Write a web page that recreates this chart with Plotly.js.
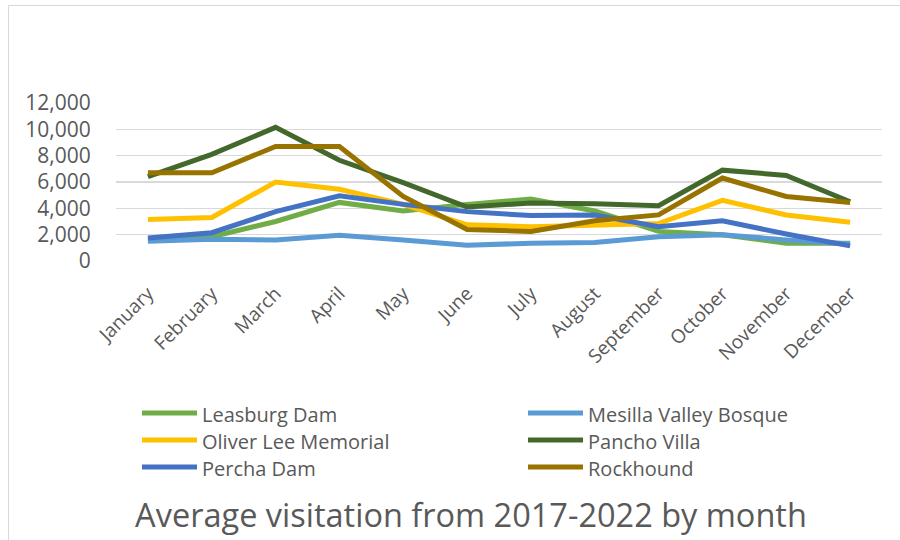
<!DOCTYPE html>
<html>
<head>
<meta charset="utf-8">
<script src="https://cdn.plot.ly/plotly-3.0.1.min.js"></script>
<style>
  html, body { margin: 0; padding: 0; background: #ffffff; }
  #frame { position: absolute; left: 8px; top: 5px; width: 892px; height: 535px;
           border-top: 1px solid #d9d9d9; border-left: 1px solid #d9d9d9; }
  #chart { position: absolute; left: 0; top: 0; width: 900px; height: 540px; }
</style>
</head>
<body>
<div id="frame"></div>
<div id="chart"></div>
<script>
const months = ["January","February","March","April","May","June","July","August","September","October","November","December"];

const seriesNames = ["Leasburg Dam","Mesilla Valley Bosque","Oliver Lee Memorial","Pancho Villa","Percha Dam","Rockhound"];
const seriesColors = ["#70AD47","#5B9BD5","#FFC000","#43682B","#4472C4","#997300"];

const leasburgDam       = [1650, 1850, 3000, 4450, 3800, 4300, 4700, 3800, 2250, 2000, 1350, 1350];
const mesillaValley     = [1500, 1650, 1600, 1950, 1600, 1200, 1350, 1400, 1850, 2000, 1600, 1300];
const oliverLee         = [3150, 3300, 6000, 5450, 4300, 2750, 2600, 2700, 2850, 4600, 3500, 2950];
const panchoVilla       = [6400, 8100, 10150, 7650, 5950, 4100, 4400, 4350, 4200, 6900, 6500, 4500];
const perchaDam         = [1750, 2150, 3750, 4950, 4300, 3750, 3450, 3500, 2600, 3050, 2050, 1150];
const rockhound         = [6700, 6700, 8700, 8700, 4900, 2400, 2250, 3050, 3500, 6300, 4900, 4450];

const yTickVals = [0, 2000, 4000, 6000, 8000, 10000, 12000];
const yTickText = ["0","2,000","4,000","6,000","8,000","10,000","12,000"];
const chartTitle = "Average visitation from 2017-2022 by month";

const allSeries = [leasburgDam, mesillaValley, oliverLee, panchoVilla, perchaDam, rockhound];

const W = 900, H = 540;
const M = { l: 116, r: 18, t: 103, b: 279 };
const plotW = W - M.l - M.r, plotH = H - M.t - M.b;
const toPX = px => (px - M.l) / plotW;
const toPY = py => (H - M.b - py) / plotH;

const traces = allSeries.map((vals, i) => ({
  type: "scatter",
  mode: "lines",
  x: months,
  y: vals,
  name: seriesNames[i],
  line: { color: seriesColors[i], width: 5 },
  hoverinfo: "x+y+name"
}));

// Custom two-column legend (row-wise order, like the original)
const shapes = [];
const annotations = [];
const legFont = { family: "'Open Sans', sans-serif", size: 20, color: "#595959" };
seriesNames.forEach((name, i) => {
  const col = i % 2, row = Math.floor(i / 2);
  const x0 = 142 + col * 386;
  const yc = 413 + row * 27;
  shapes.push({
    type: "line", xref: "paper", yref: "paper",
    x0: toPX(x0), x1: toPX(x0 + 55), y0: toPY(yc), y1: toPY(yc),
    line: { color: seriesColors[i], width: 5 }
  });
  annotations.push({
    xref: "paper", yref: "paper",
    x: toPX(x0 + 58), y: toPY(yc + 1),
    xanchor: "left", yanchor: "middle",
    text: name, showarrow: false, font: legFont
  });
});

const layout = {
  width: W,
  height: H,
  paper_bgcolor: "rgba(0,0,0,0)",
  plot_bgcolor: "rgba(0,0,0,0)",
  margin: { l: M.l, r: M.r, t: M.t, b: M.b, pad: 0 },
  showlegend: false,
  shapes: shapes,
  annotations: annotations,
  title: {
    text: chartTitle,
    font: { family: "'Open Sans', sans-serif", size: 32.5, color: "#595959" },
    xref: "container", x: 471 / W, xanchor: "center",
    yref: "container", y: (H - 516) / H, yanchor: "middle"
  },
  xaxis: {
    type: "category",
    range: [-0.5, 11.5],
    tickangle: -45,
    tickfont: { family: "'Open Sans', sans-serif", size: 19, color: "#595959" },
    showgrid: false,
    zeroline: false,
    showline: false,
    ticks: "outside",
    ticklen: 13,
    tickcolor: "rgba(0,0,0,0)",
    automargin: false,
    fixedrange: true
  },
  yaxis: {
    range: [0, 12000],
    tickvals: yTickVals,
    ticktext: yTickText,
    tickfont: { family: "'Open Sans', sans-serif", size: 21, color: "#595959" },
    showgrid: true,
    gridcolor: "#d9d9d9",
    gridwidth: 1.6,
    zeroline: false,
    showline: false,
    ticks: "outside",
    ticklen: 20,
    tickcolor: "rgba(0,0,0,0)",
    automargin: false,
    fixedrange: true
  }
};

Plotly.newPlot("chart", traces, layout, { displayModeBar: false, staticPlot: true });
</script>
</body>
</html>
